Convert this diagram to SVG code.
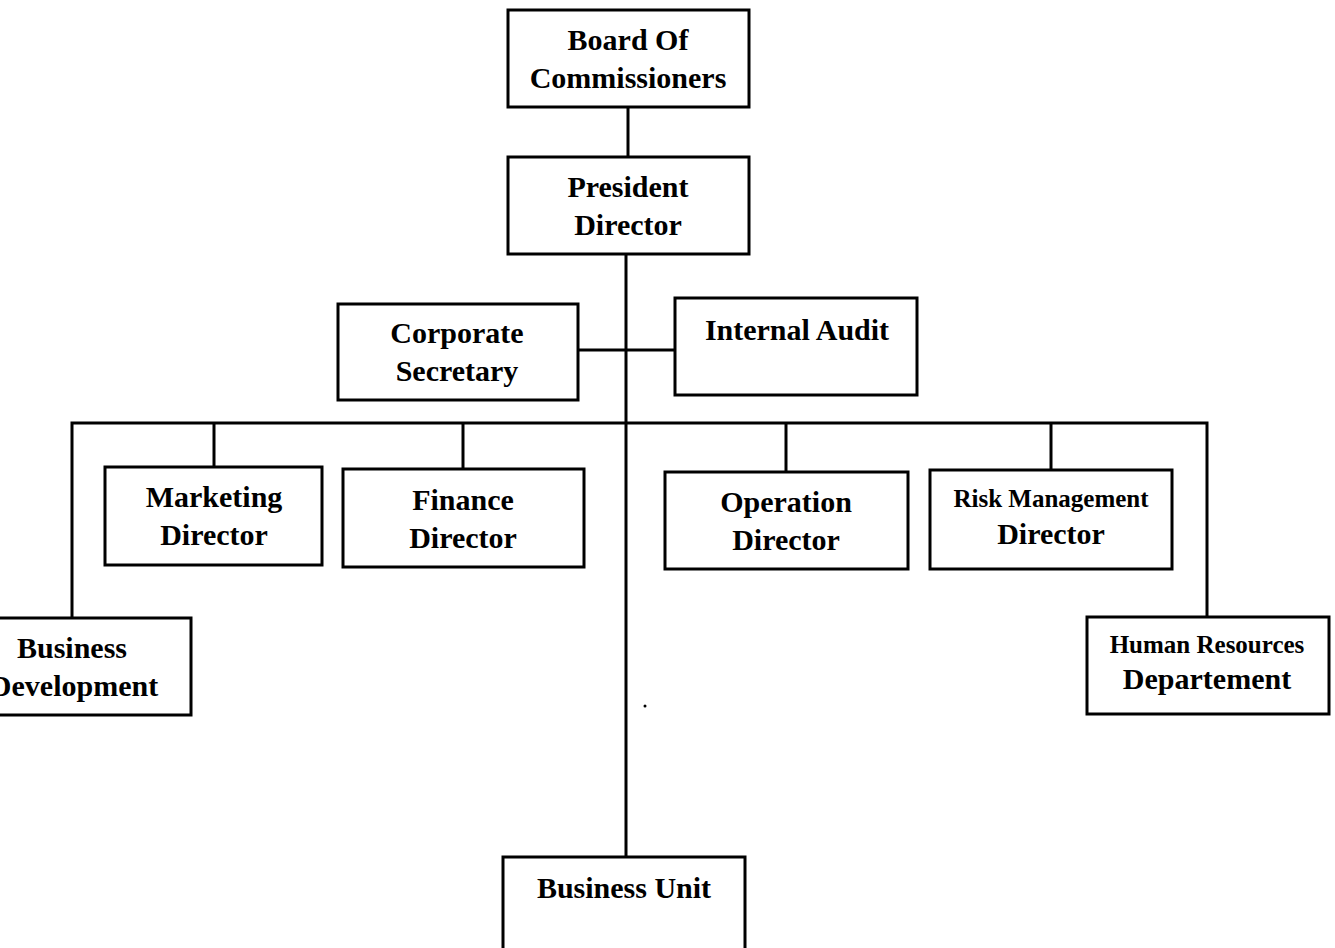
<svg xmlns="http://www.w3.org/2000/svg" width="1335" height="948" viewBox="0 0 1335 948">
<style>
.box{fill:#fff;stroke:#000;stroke-width:3}
.ln{stroke:#000;stroke-width:3;fill:none}
text{font-family:"Liberation Serif","Times New Roman",serif;font-weight:bold;font-size:30px;fill:#000;text-anchor:middle}
.sm{font-size:25px}
</style>
<rect width="1335" height="948" fill="#fff"/>
<g id="connectors">
<line class="ln" x1="628" y1="107" x2="628" y2="157"/>
<line class="ln" x1="626" y1="254" x2="626" y2="857"/>
<line class="ln" x1="578" y1="350" x2="675" y2="350"/>
<polyline class="ln" points="72,618 72,423 1207,423 1207,617"/>
<line class="ln" x1="214" y1="423" x2="214" y2="467"/>
<line class="ln" x1="463" y1="423" x2="463" y2="469"/>
<line class="ln" x1="786" y1="423" x2="786" y2="472"/>
<line class="ln" x1="1051" y1="423" x2="1051" y2="470"/>
</g>
<g id="board"><rect class="box" x="508" y="10" width="241" height="97"/><text x="628" y="50">Board Of</text><text x="628" y="88">Commissioners</text></g>
<g id="president"><rect class="box" x="508" y="157" width="241" height="97"/><text x="628" y="197">President</text><text x="628" y="235">Director</text></g>
<g id="corpsec"><rect class="box" x="338" y="304" width="240" height="96"/><text x="457" y="343">Corporate</text><text x="457" y="381">Secretary</text></g>
<g id="audit"><rect class="box" x="675" y="298" width="242" height="97"/><text x="797" y="340">Internal Audit</text></g>
<g id="marketing"><rect class="box" x="105" y="467" width="217" height="98"/><text x="214" y="507">Marketing</text><text x="214" y="545">Director</text></g>
<g id="finance"><rect class="box" x="343" y="469" width="241" height="98"/><text x="463" y="510">Finance</text><text x="463" y="548">Director</text></g>
<g id="operation"><rect class="box" x="665" y="472" width="243" height="97"/><text x="786" y="512">Operation</text><text x="786" y="550">Director</text></g>
<g id="risk"><rect class="box" x="930" y="470" width="242" height="99"/><text class="sm" x="1051" y="507">Risk Management</text><text x="1051" y="544">Director</text></g>
<g id="bizdev"><rect class="box" x="-5" y="618" width="196" height="97"/><text x="72" y="658">Business</text><text x="74" y="696">Development</text></g>
<g id="hr"><rect class="box" x="1087" y="617" width="242" height="97"/><text class="sm" x="1207" y="653">Human Resources</text><text x="1207" y="689">Departement</text></g>
<g id="bizunit"><rect class="box" x="503" y="857" width="242" height="100"/><text x="624" y="898">Business Unit</text></g>
<circle cx="645" cy="706" r="1.5" fill="#000"/>
</svg>
